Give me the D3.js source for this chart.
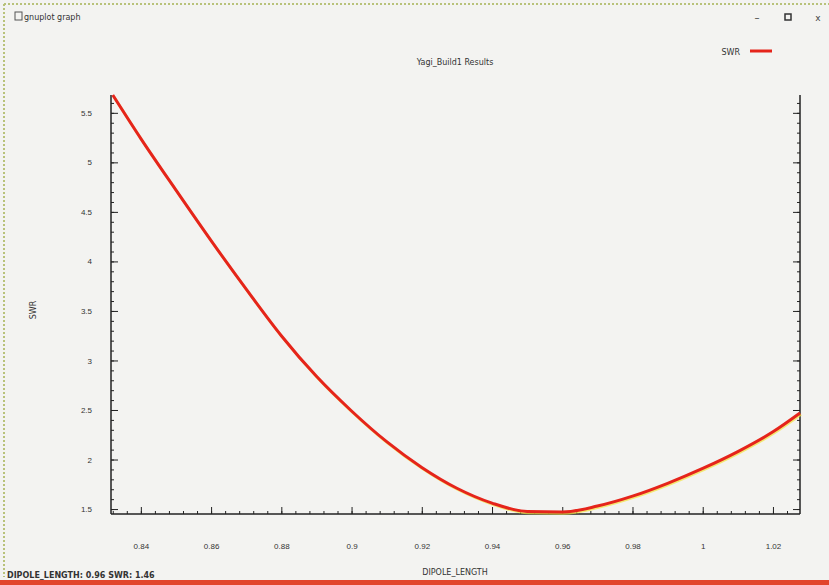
<!DOCTYPE html>
<html>
<head>
<meta charset="utf-8">
<style>
  body { margin: 0; background: #f3f3f1; font-family: "DejaVu Sans", sans-serif; }
  svg { display: block; }
  .tick text { fill: #333; font-size: 8px; }
  .axis path, .axis line { stroke: #222; }
</style>
</head>
<body>
<script src="https://cdn.jsdelivr.net/npm/d3@7"></script>
<script>
// values
var dipoleLength = [0.832, 0.84, 0.85, 0.86, 0.87, 0.88, 0.89, 0.90, 0.91, 0.92, 0.93,
                    0.94, 0.95, 0.96, 0.97, 0.98, 0.99, 1.00, 1.01, 1.02, 1.0277];
var swr = [5.68, 5.24, 4.72, 4.21, 3.72, 3.25, 2.84, 2.49, 2.18, 1.92, 1.71,
           1.56, 1.475, 1.47, 1.53, 1.63, 1.76, 1.91, 2.08, 2.28, 2.47];
var xTicks = [0.84, 0.86, 0.88, 0.9, 0.92, 0.94, 0.96, 0.98, 1, 1.02];
var yTicks = [1.5, 2, 2.5, 3, 3.5, 4, 4.5, 5, 5.5];

var W = 829, H = 585;
var plotL = 111, plotR = 800, plotT = 95, plotB = 514;

var svg = d3.select("body").append("svg").attr("width", W).attr("height", H);

// window frame
svg.append("line").attr("x1", 4).attr("x2", W).attr("y1", 4).attr("y2", 4)
    .attr("stroke", "#b8c27a").attr("stroke-width", 2).attr("stroke-dasharray", "2,2");
svg.append("line").attr("x1", 4).attr("x2", 4).attr("y1", 4).attr("y2", H - 8)
    .attr("stroke", "#b8c27a").attr("stroke-width", 2).attr("stroke-dasharray", "2,2");
svg.append("rect").attr("x", 15).attr("y", 12).attr("width", 7).attr("height", 8)
    .attr("fill", "none").attr("stroke", "#555");
svg.append("text").attr("x", 24).attr("y", 20).attr("font-size", 8).attr("fill", "#333")
    .text("gnuplot graph");
svg.append("text").attr("x", 757).attr("y", 21).attr("font-size", 10).attr("fill", "#444")
    .attr("text-anchor", "middle").text("–");
svg.append("rect").attr("x", 785).attr("y", 14).attr("width", 6).attr("height", 6)
    .attr("fill", "none").attr("stroke", "#333").attr("stroke-width", 1.5);
svg.append("text").attr("x", 818).attr("y", 21).attr("font-size", 9).attr("fill", "#444")
    .attr("text-anchor", "middle").text("x");

var x = d3.scaleLinear().domain([0.8315, 1.0277]).range([plotL, plotR]);
var y = d3.scaleLinear().domain([1.45, 5.68]).range([plotB, plotT]);

// minor ticks
var xMinor = d3.range(0.832, 1.0277, 0.004);
var yMinor = d3.range(1.5, 5.68, 0.1);

svg.append("g").attr("class", "axis")
    .attr("transform", `translate(0,${plotB})`)
    .call(d3.axisTop(x).tickValues(xMinor).tickSize(3).tickFormat(""))
    .call(g => g.select(".domain").remove());
svg.append("g").attr("class", "axis")
    .attr("transform", `translate(0,${plotB})`)
    .call(d3.axisTop(x).tickValues(xTicks).tickSize(7).tickFormat(""))
    .call(g => g.select(".domain").attr("d", `M${plotL},0H${plotR}`).attr("stroke-width", 1.5));
svg.append("g").attr("class", "axis")
    .attr("transform", `translate(0,${plotB + 26})`)
    .call(d3.axisBottom(x).tickValues(xTicks).tickSize(0).tickFormat(d3.format("")))
    .call(g => g.select(".domain").remove());

[[plotL, d3.axisRight], [plotR, d3.axisLeft]].forEach(function(a) {
  svg.append("g").attr("class", "axis")
      .attr("transform", `translate(${a[0]},0)`)
      .call(a[1](y).tickValues(yMinor).tickSize(3).tickFormat(""))
      .call(g => g.select(".domain").remove());
  svg.append("g").attr("class", "axis")
      .attr("transform", `translate(${a[0]},0)`)
      .call(a[1](y).tickValues(yTicks).tickSize(7).tickFormat(""))
      .call(g => g.select(".domain").attr("d", `M0,${plotT}V${plotB}`).attr("stroke-width", 1.5));
});
svg.append("g").attr("class", "axis")
    .attr("transform", `translate(${plotL - 16},0)`)
    .call(d3.axisLeft(y).tickValues(yTicks).tickSize(0).tickFormat(d3.format("")))
    .call(g => g.select(".domain").remove());

// curve
var pts = dipoleLength.map((d, i) => [d, swr[i]]);
var line = d3.line().x(d => x(d[0])).y(d => y(d[1])).curve(d3.curveMonotoneX);
svg.append("path").datum(pts).attr("d", line)
    .attr("fill", "none").attr("stroke", "#f2e23a").attr("stroke-width", 2.5)
    .attr("transform", "translate(1,1.5)").attr("opacity", 0.7);
svg.append("path").datum(pts).attr("d", line)
    .attr("fill", "none").attr("stroke", "#e5241b").attr("stroke-width", 3);

// texts
svg.append("text").attr("x", 455).attr("y", 65).attr("text-anchor", "middle")
    .attr("font-size", 8).attr("fill", "#333").text("Yagi_Build1 Results");
svg.append("text").attr("x", 455).attr("y", 575).attr("text-anchor", "middle")
    .attr("font-size", 8).attr("fill", "#333").text("DIPOLE_LENGTH");
svg.append("text").attr("transform", "translate(36,310) rotate(-90)").attr("text-anchor", "middle")
    .attr("font-size", 8).attr("fill", "#333").text("SWR");
svg.append("text").attr("x", 740).attr("y", 55).attr("text-anchor", "end")
    .attr("font-size", 8).attr("fill", "#333").text("SWR");
svg.append("line").attr("x1", 750).attr("x2", 772).attr("y1", 51).attr("y2", 51)
    .attr("stroke", "#e5241b").attr("stroke-width", 3);

// status bar
svg.append("text").attr("x", 7).attr("y", 578).attr("font-size", 8).attr("fill", "#333")
    .attr("font-weight", "bold").text("DIPOLE_LENGTH: 0.96  SWR: 1.46");
svg.append("rect").attr("x", 0).attr("y", 580).attr("width", W).attr("height", 5)
    .attr("fill", "#e2452c");
</script>
</body>
</html>
